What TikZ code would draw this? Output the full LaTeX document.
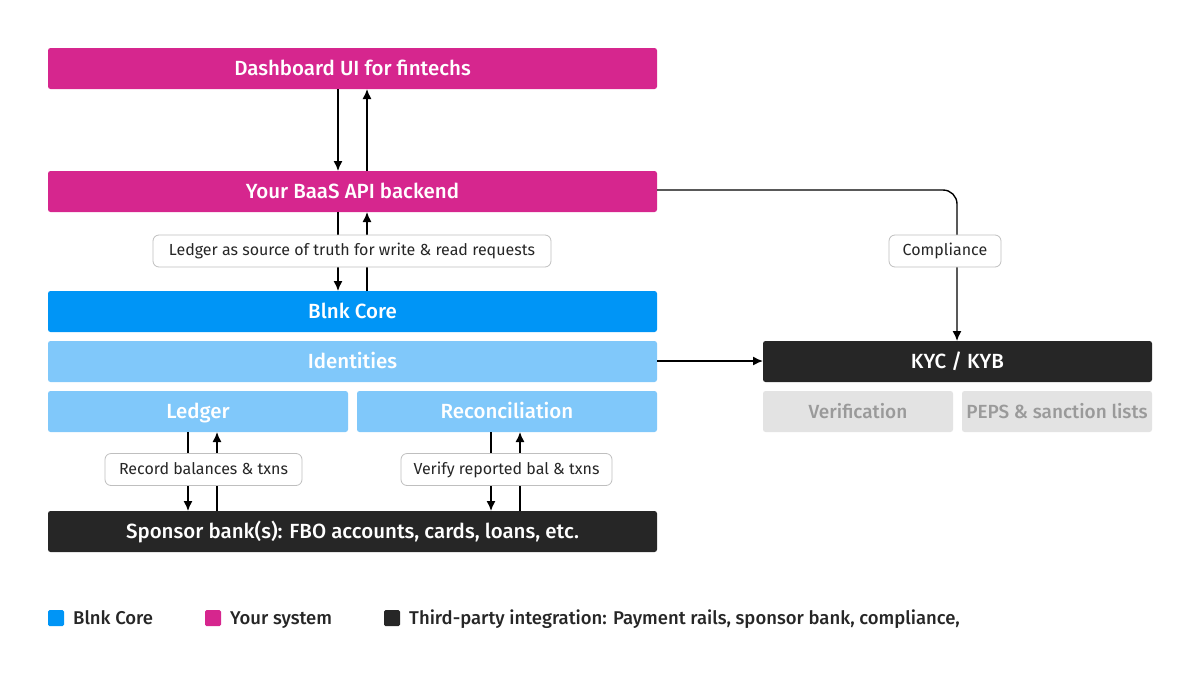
\documentclass[tikz,border=0pt]{standalone}
\usepackage{fontspec}
\setmainfont{Fira Sans}[BoldFont={Fira Sans Medium}]
\usetikzlibrary{arrows.meta}
\definecolor{mag}{HTML}{D6268E}
\definecolor{core}{HTML}{0095F6}
\definecolor{lb}{HTML}{80C8FA}
\definecolor{dk}{HTML}{262626}
\definecolor{gr}{HTML}{E3E3E3}
\definecolor{grt}{HTML}{9A9A9A}
\begin{document}
\begin{tikzpicture}[x=1pt,y=-1pt,
 box/.style={draw=none,font=\fontsize{20.5}{24}\selectfont\bfseries,text=white,text height=14pt,text depth=1pt},
 gbox/.style={box,font=\fontsize{19}{22}\selectfont\bfseries,text=grt},
 lbl/.style={draw=black!25,line width=0.8pt,fill=white,rounded corners=6pt,font=\fontsize{16}{19}\selectfont,text=dk,minimum height=32pt,inner xsep=10pt,text height=11pt,text depth=1.5pt},
 ar/.style={-{Latex[length=10pt,width=9pt]},line width=1.4pt,draw=black},
 leg/.style={anchor=base west,text=dk,inner xsep=0pt}]
\useasboundingbox (0,0) rectangle (1200,675);
\fill[mag,rounded corners=2.5pt] (48,48) rectangle (657,89);
\node[box] (dash) at (352.5,68.5) {Dashboard UI for fintechs};
\fill[mag,rounded corners=2.5pt] (48,171) rectangle (657,212);
\node[box] (baas) at (352.5,191.5) {Your BaaS API backend};
\fill[core,rounded corners=2.5pt] (48,291) rectangle (657,332);
\node[box] (core) at (352.5,311.5) {Blnk Core};
\fill[lb,rounded corners=2.5pt] (48,341) rectangle (657,382);
\node[box] (ident) at (352.5,361.5) {Identities};
\fill[lb,rounded corners=2.5pt] (48,391) rectangle (348,432);
\node[box] (ledger) at (198,411.5) {Ledger};
\fill[lb,rounded corners=2.5pt] (357,391) rectangle (657,432);
\node[box] (recon) at (507,411.5) {Reconciliation};
\fill[dk,rounded corners=2.5pt] (48,511) rectangle (657,552);
\node[box] (bank) at (352.5,531.5) {Sponsor bank(s): FBO accounts, cards, loans, etc.};
\fill[dk,rounded corners=2.5pt] (763,341) rectangle (1152,382);
\node[box] (kyc) at (957.5,361.5) {KYC / KYB};
\fill[gr,rounded corners=2.5pt] (763,391) rectangle (953,432);
\node[gbox] (ver) at (858,411.5) {Verification};
\fill[gr,rounded corners=2.5pt] (962,391) rectangle (1152,432);
\node[gbox] (peps) at (1057,411.5) {PEPS \& sanction lists};
% arrows
\coordinate (d1) at (338,89); \coordinate (b1) at (338,171);
\coordinate (d2) at (367,89); \coordinate (b2) at (367,171);
\draw[ar] (d1) -- (b1); \draw[ar] (b2) -- (d2);
\coordinate (b3) at (338,212); \coordinate (c3) at (338,291);
\coordinate (b4) at (367,212); \coordinate (c4) at (367,291);
\draw[ar] (b3) -- (c3); \draw[ar] (c4) -- (b4);
\node[lbl,minimum width=398pt] (l1) at (352,251) {Ledger as source of truth for write \& read requests};
\coordinate (e1) at (188,432); \coordinate (f1) at (188,511);
\coordinate (e2) at (217,432); \coordinate (f2) at (217,511);
\draw[ar] (e1) -- (f1); \draw[ar] (f2) -- (e2);
\node[lbl,minimum width=197pt] (l2) at (203.5,469.5) {Record balances \& txns};
\coordinate (g1) at (491,432); \coordinate (h1) at (491,511);
\coordinate (g2) at (520,432); \coordinate (h2) at (520,511);
\draw[ar] (g1) -- (h1); \draw[ar] (h2) -- (g2);
\node[lbl,minimum width=211pt] (l3) at (506.5,469.5) {Verify reported bal \& txns};
\coordinate (bs) at (657,190); \coordinate (kt) at (957,341);
\draw[ar,rounded corners=14pt] (bs) -- (957,190) -- (kt);
\node[lbl,minimum width=112pt] (l4) at (945,251) {Compliance};
\coordinate (is) at (657,361); \coordinate (ke) at (763,361);
\draw[ar] (is) -- (ke);
% legend
\begin{scope}[font=\fontsize{18.5}{22}\selectfont\bfseries]
\fill[core,rounded corners=1.5pt] (48,610) rectangle (64,626);
\node[leg] (lg1) at (73,624.5) {Blnk Core};
\fill[mag,rounded corners=1.5pt] (205,610) rectangle (221,626);
\node[leg] (lg2) at (230,624.5) {Your system};
\fill[dk,rounded corners=1.5pt] (384,610) rectangle (400,626);
\node[leg] (lg3) at (409,624.5) {Third-party integration: Payment rails, sponsor bank, compliance,};
\end{scope}
\end{tikzpicture}
\end{document}
